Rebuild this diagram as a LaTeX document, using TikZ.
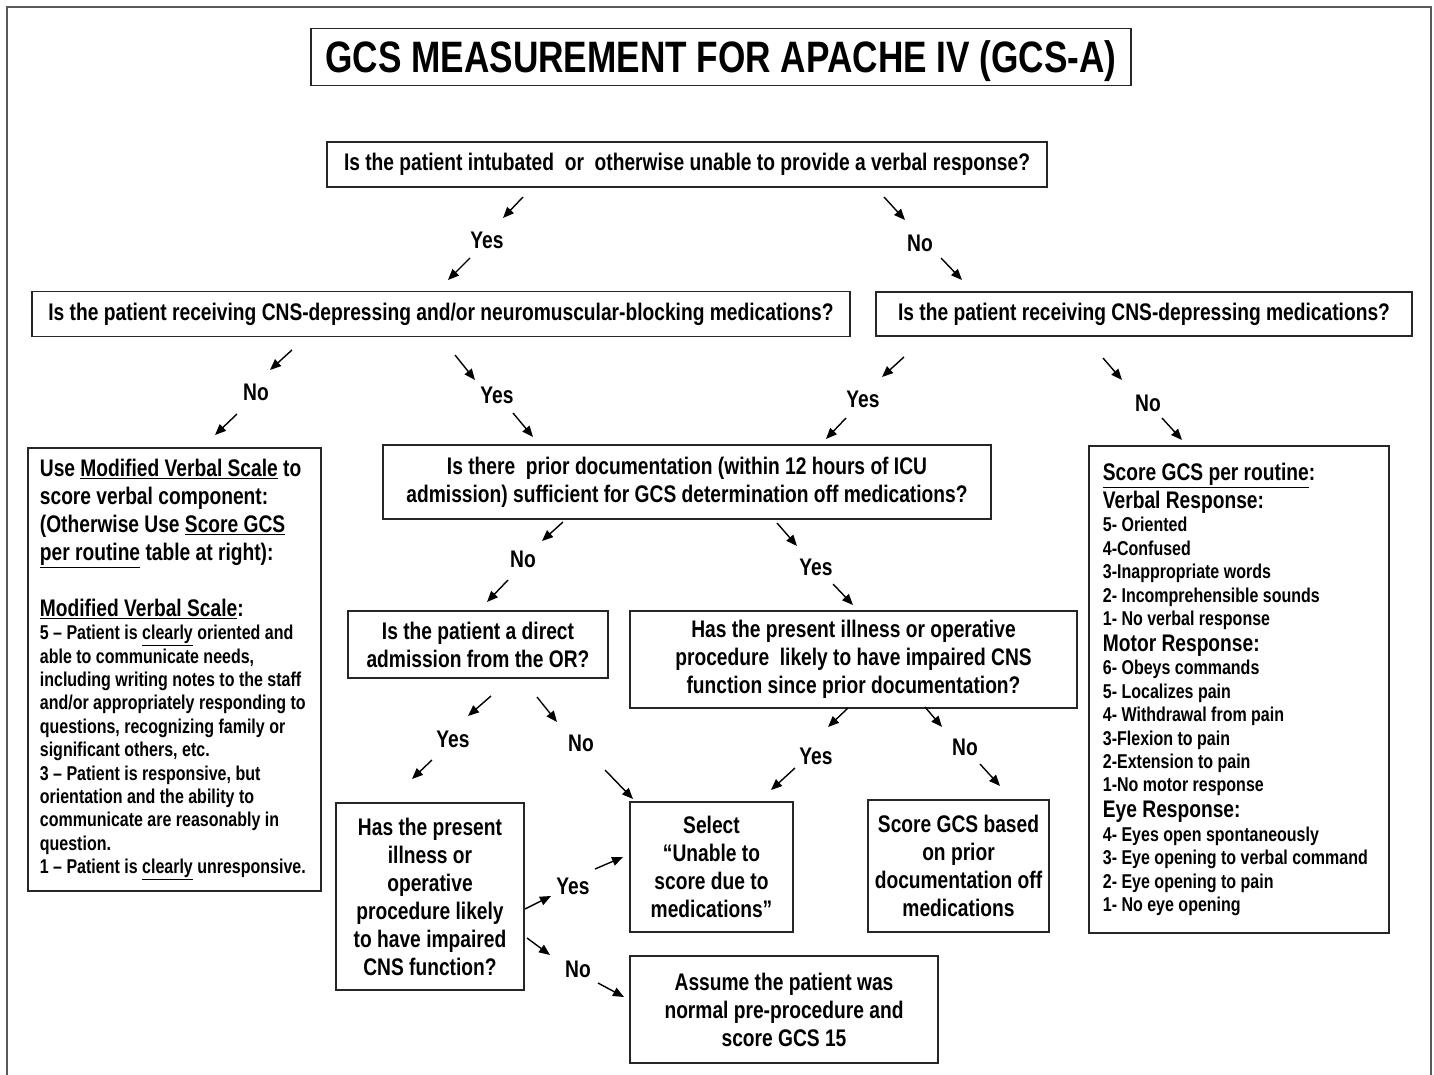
\documentclass[tikz,border=0pt]{standalone}
\usepackage{fontspec}
\setmainfont{Liberation Sans}[FakeStretch=0.8]
\usetikzlibrary{arrows.meta}

\begin{document}
\begin{tikzpicture}[x=1pt,y=-1pt]
\tikzstyle{every node}+=[inner sep=0pt, font=\bfseries\fontsize{24}{28}\selectfont]
\tikzstyle{box}=[draw=black!85, line width=1.8pt, align=center]
\tikzstyle{arr}=[black, line width=1.4pt, -{Triangle[length=11pt,width=9pt]}]

\useasboundingbox (0,0) rectangle (1434,1075);
\draw [black!65, line width=2.2pt] (7,1075) -- (7,7) -- (1431,7) -- (1431,1075);

\node [box, minimum width=820pt, minimum height=57pt, text depth=0pt, font=\bfseries\fontsize{44}{50}\selectfont] (title) at (721,57) {GCS MEASUREMENT FOR APACHE IV (GCS-A)};

\node [box, minimum width=720pt, minimum height=45pt] (q1) at (687,164.5) {Is the patient intubated\ \ or\ \ otherwise unable to provide a verbal response?};
\node [box, minimum width=818pt, minimum height=45pt] (q2l) at (441,314) {Is the patient receiving CNS-depressing and/or neuromuscular-blocking medications?};
\node [box, minimum width=536pt, minimum height=44pt] (q2r) at (1144,314) {Is the patient receiving CNS-depressing medications?};
\node [box, minimum width=608pt, minimum height=74pt] (q3) at (687,482) {Is there\ \ prior documentation (within 12 hours of ICU\\ admission) sufficient for GCS determination off medications?};
\node [box, minimum width=260pt, minimum height=67pt] (q4) at (478,644.5) {Is the patient a direct\\ admission from the OR?};
\node [box, minimum width=447pt, minimum height=97pt] (q5) at (853.5,659.5) {Has the present illness or operative\\ procedure\ \ likely to have impaired CNS\\ function since prior documentation?};
\node [box, minimum width=188pt, minimum height=187pt] (q6) at (430,896.5) {Has the present\\ illness or\\ operative\\ procedure likely\\ to have impaired\\ CNS function?};
\node [box, minimum width=163pt, minimum height=130pt] (sel) at (711.5,867) {Select\\ “Unable to\\ score due to\\ medications”};
\node [box, minimum width=181pt, minimum height=132pt] (prior) at (958.5,866) {Score GCS based\\ on prior\\ documentation off\\ medications};
\node [box, minimum width=308pt, minimum height=107pt] (assume) at (784,1009.5) {Assume the patient was\\ normal pre-procedure and\\ score GCS 15};

\node [box, anchor=north west, minimum height=443pt, text width=269pt, inner xsep=12pt, align=flush left] (mvs) at (27,447) {Use \underline{Modified Verbal Scale} to\\ score verbal component:\\ (Otherwise Use \underline{Score GCS}\\ \underline{per routine} table at right):\\[28pt] \underline{Modified Verbal Scale}:\par
{\fontsize{20}{23.4}\selectfont 5 – Patient is \underline{clearly} oriented and\\ able to communicate needs,\\ including writing notes to the staff\\ and/or appropriately responding to\\ questions, recognizing family or\\ significant others, etc.\\ 3 – Patient is responsive, but\\ orientation and the ability to\\ communicate are reasonably in\\ question.\\ 1 – Patient is \underline{clearly} unresponsive.\par}};

\node [box, anchor=north west, minimum height=487pt, text width=272pt, inner xsep=14pt, align=flush left] (routine) at (1088,445) {\underline{Score GCS per routine}:\par Verbal Response:\par
{\fontsize{20}{23.4}\selectfont 5- Oriented\\ 4-Confused\\ 3-Inappropriate words\\ 2- Incomprehensible sounds\\ 1- No verbal response\par}
{\fontsize{24}{26}\selectfont Motor Response:\par}
{\fontsize{20}{23.4}\selectfont 6- Obeys commands\\ 5- Localizes pain\\ 4- Withdrawal from pain\\ 3-Flexion to pain\\ 2-Extension to pain\\ 1-No motor response\par}
{\fontsize{24}{26}\selectfont Eye Response:\par}
{\fontsize{20}{23.4}\selectfont 4- Eyes open spontaneously\\ 3- Eye opening to verbal command\\ 2- Eye opening to pain\\ 1- No eye opening\par}};

\node (yes1) at (487,240) {Yes};
\node (no1) at (920,243) {No};
\node (no2) at (256,392) {No};
\node (yes2) at (497,395) {Yes};
\node (yes3) at (863,399) {Yes};
\node (no3) at (1148,403) {No};
\node (no4) at (523,559) {No};
\node (yes4) at (816,567) {Yes};
\node (yes5) at (453,739) {Yes};
\node (no5) at (581,743) {No};
\node (yes6) at (816,756) {Yes};
\node (no6) at (965,747) {No};
\node (yes7) at (573,886) {Yes};
\node (no7) at (578,969) {No};

\path (523,197) coordinate (s1) (503,218) coordinate (e1)
      (470,258) coordinate (s2) (448,280) coordinate (e2)
      (884,197) coordinate (s3) (905,220) coordinate (e3)
      (941,258) coordinate (s4) (962,280) coordinate (e4)
      (292,350) coordinate (s5) (270,370) coordinate (e5)
      (237,414) coordinate (s6) (215,435) coordinate (e6)
      (455,355) coordinate (s7) (475,380) coordinate (e7)
      (513,413) coordinate (s8) (533,437) coordinate (e8)
      (904,357) coordinate (s9) (882,377) coordinate (e9)
      (846,418) coordinate (s10) (826,439) coordinate (e10)
      (1103,358) coordinate (s11) (1122,380) coordinate (e11)
      (1162,418) coordinate (s12) (1182,440) coordinate (e12)
      (563,522) coordinate (s13) (542,541) coordinate (e13)
      (508,580) coordinate (s14) (487,602) coordinate (e14)
      (777,523) coordinate (s15) (797,546) coordinate (e15)
      (833,584) coordinate (s16) (853,605) coordinate (e16)
      (491,696) coordinate (s17) (468,716) coordinate (e17)
      (432,760) coordinate (s18) (412,779) coordinate (e18)
      (537,697) coordinate (s19) (557,722) coordinate (e19)
      (605,770) coordinate (s20) (633,799) coordinate (e20)
      (848,708) coordinate (s21) (828,727) coordinate (e21)
      (795,768) coordinate (s22) (771,790) coordinate (e22)
      (925,707) coordinate (s23) (942,727) coordinate (e23)
      (980,764) coordinate (s24) (1000,786) coordinate (e24)
      (525,909) coordinate (s25) (551,896) coordinate (e25)
      (595,869) coordinate (s26) (623,857) coordinate (e26)
      (527,938) coordinate (s27) (550,955) coordinate (e27)
      (598,983) coordinate (s28) (624,997) coordinate (e28);
\foreach \i in {1,...,28}
  \draw [arr] (s\i) -- (e\i);
\end{tikzpicture}
\end{document}
